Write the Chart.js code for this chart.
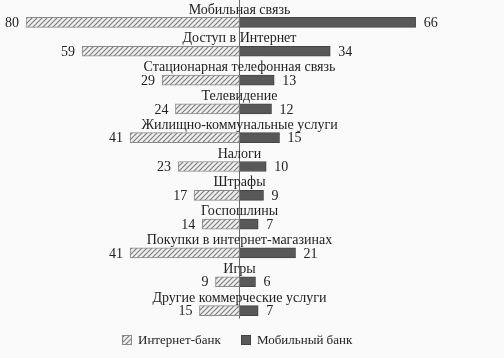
<!DOCTYPE html>
<html>
<head>
<meta charset="utf-8">
<script src="https://cdn.jsdelivr.net/npm/chart.js@4.4.0/dist/chart.umd.min.js"></script>
<style>
  html, body { margin: 0; padding: 0; background: #fafafa; }
  #wrap { width: 504px; height: 358px; position: relative; }
</style>
</head>
<body>
<div id="wrap"><canvas id="bankChart" width="504" height="358"></canvas></div>
<script>
// Data
const categories = [
  "Мобильная связь",
  "Доступ в Интернет",
  "Стационарная телефонная связь",
  "Телевидение",
  "Жилищно-коммунальные услуги",
  "Налоги",
  "Штрафы",
  "Госпошлины",
  "Покупки в интернет-магазинах",
  "Игры",
  "Другие коммерческие услуги"
];
const internetBank = [80, 59, 29, 24, 41, 23, 17, 14, 41, 9, 15];
const mobileBank = [66, 34, 13, 12, 15, 10, 9, 7, 21, 6, 7];
const seriesNames = ["Интернет-банк", "Мобильный банк"];

const FONT = '"Liberation Serif", "DejaVu Serif", serif';
const TEXT = "#222";

// hatch pattern for internet bank bars
function makeHatch() {
  const c = document.createElement("canvas");
  c.width = 5;
  c.height = 5;
  const g = c.getContext("2d");
  g.fillStyle = "#f0f0f0";
  g.fillRect(0, 0, 5, 5);
  g.strokeStyle = "#7e7e7e";
  g.lineWidth = 1.2;
  g.beginPath();
  g.moveTo(0, 5); g.lineTo(5, 0);
  g.moveTo(-2.5, 2.5); g.lineTo(2.5, -2.5);
  g.moveTo(2.5, 7.5); g.lineTo(7.5, 2.5);
  g.stroke();
  return g.createPattern(c, "repeat");
}
const ctx = document.getElementById("bankChart").getContext("2d");
const hatch = makeHatch();

const labelsPlugin = {
  id: "labelsPlugin",
  beforeDatasetsDraw(chart) {
    const c = chart.ctx;
    const x0 = chart.scales.x.getPixelForValue(0);
    const meta = chart.getDatasetMeta(1);
    const last = meta.data[meta.data.length - 1];
    c.save();
    c.strokeStyle = "#6a6a6a";
    c.lineWidth = 1;
    c.beginPath();
    c.moveTo(x0, 0);
    c.lineTo(x0, last.y + 8);
    c.stroke();
    c.restore();
  },
  afterDatasetsDraw(chart) {
    const c = chart.ctx;
    const x0 = chart.scales.x.getPixelForValue(0);
    const left = chart.getDatasetMeta(0).data;
    const right = chart.getDatasetMeta(1).data;
    c.save();
    c.font = "14px " + FONT;
    c.fillStyle = TEXT;
    c.textBaseline = "middle";
    categories.forEach((name, i) => {
      const y = left[i].y;
      c.textAlign = "center";
      c.fillText(name, x0, y - 12.5);
      c.textAlign = "right";
      c.fillText(String(internetBank[i]), left[i].x - 7, y + 1);
      c.textAlign = "left";
      c.fillText(String(mobileBank[i]), right[i].x + 8, y + 1);
    });
    // legend
    c.font = "13px " + FONT;
    const ly = 340;
    const items = [
      { x: 122, fill: hatch, border: "#8a8a8a", text: seriesNames[0] },
      { x: 241, fill: "#5a5a5a", border: "#444", text: seriesNames[1] }
    ];
    items.forEach((it) => {
      c.fillStyle = it.fill;
      c.fillRect(it.x, ly - 5, 10, 10);
      c.strokeStyle = it.border;
      c.strokeRect(it.x + 0.5, ly - 4.5, 9, 9);
      c.fillStyle = TEXT;
      c.textAlign = "left";
      c.fillText(it.text, it.x + 16, ly + 1);
    });
    c.restore();
  }
};

new Chart(ctx, {
  type: "bar",
  data: {
    labels: categories,
    datasets: [
      {
        label: seriesNames[0],
        data: internetBank.map(v => -v),
        backgroundColor: hatch,
        borderColor: "#8a8a8a",
        borderWidth: 1,
        borderSkipped: false,
        barThickness: 10
      },
      {
        label: seriesNames[1],
        data: mobileBank,
        backgroundColor: "#585858",
        borderColor: "#444",
        borderWidth: 1,
        borderSkipped: false,
        barThickness: 10
      }
    ]
  },
  options: {
    indexAxis: "y",
    responsive: false,
    animation: false,
    layout: {
      padding: { top: 8, bottom: 33, left: 26, right: 51 }
    },
    scales: {
      x: { display: false, stacked: true, min: -80, max: 80 },
      y: { display: false, stacked: true }
    },
    plugins: {
      legend: { display: false },
      tooltip: { enabled: false }
    }
  },
  plugins: [labelsPlugin]
});
</script>
</body>
</html>
